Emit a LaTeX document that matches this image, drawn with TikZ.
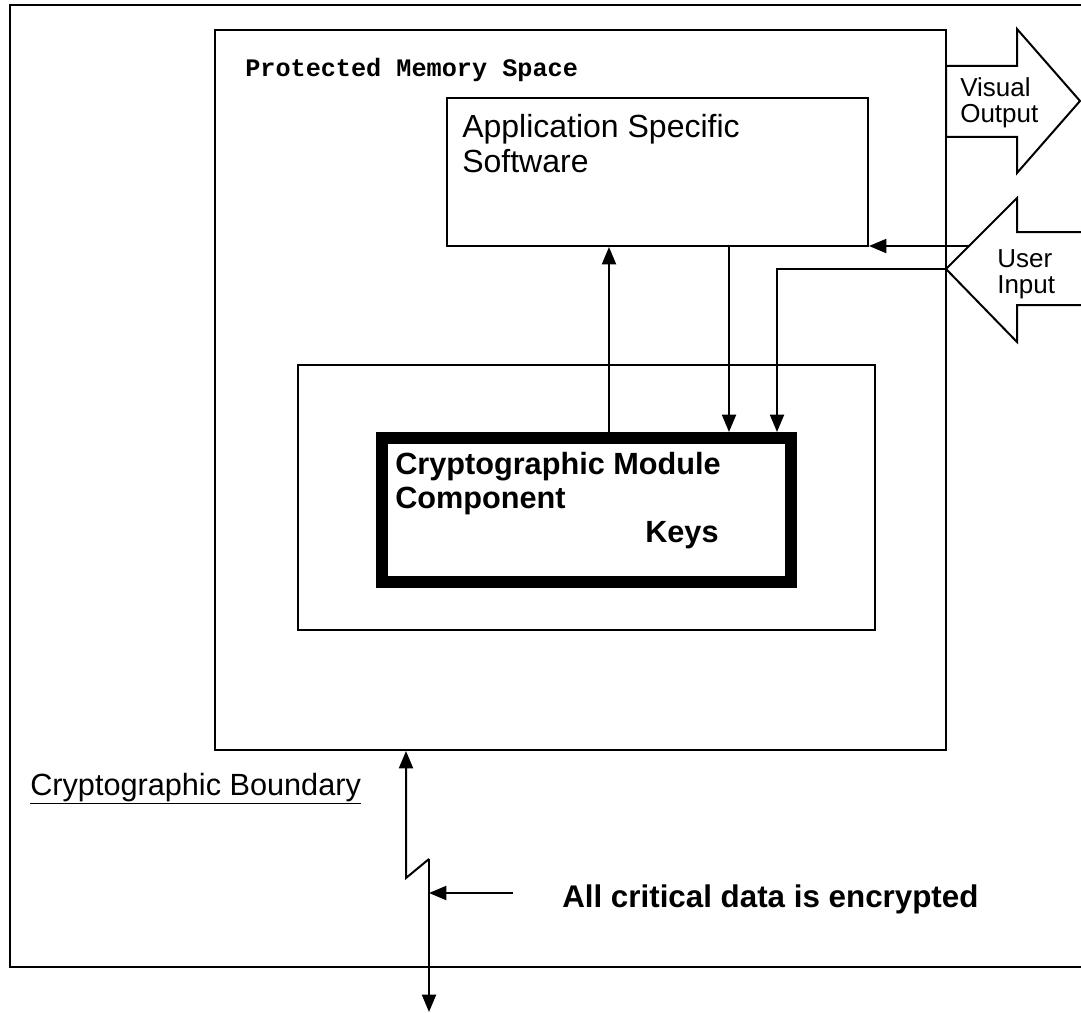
\documentclass[tikz,border=0pt]{standalone}
\usepackage{fontspec}
\setmainfont{Liberation Sans}
\newfontfamily\monofam{Liberation Mono}
\usetikzlibrary{arrows.meta,fit}
\begin{document}
\begin{tikzpicture}[x=0.75pt,y=-0.75pt,
  thinline/.style={line width=1.5pt},
  box/.style={draw, line width=1.5pt, inner sep=0pt},
  modbox/.style={draw, line width=9pt, inner sep=0pt, outer sep=4.5pt},
  arr/.style={line width=1.5pt,-{Triangle[length=13pt,width=10.5pt]}},
  lbl/.style={inner sep=0pt, anchor=base west, align=left}]
\useasboundingbox (0,0) rectangle (1081,1013);
% outer cryptographic boundary (cut off at the right)
\draw[thinline] (1081,5) -- (10,5) -- (10,967) -- (1081,967);
% boxes
\node[box, fit={(215,30) (946,750)}] (pms) {};
\node[box, fit={(447,98) (868,246)}] (app) {};
\node[box, fit={(298,365) (875,630)}] (mid) {};
\node[modbox, fit={(382,438) (791,582)}] (mod) {};
% block arrows
\draw[thinline, fill=white] (946,66) -- (1017,66) -- (1017,29) -- (1080,101) -- (1017,173) -- (1017,137) -- (946,137) -- cycle;
\draw[thinline] (1081,232) -- (1017,232) -- (1017,198) -- (946,269) -- (1017,342) -- (1017,305) -- (1081,305);
% helper coordinates
\coordinate (uitip) at (946,269);
\coordinate (uiedge) at (969,246);
\coordinate (xa) at (609,0);
\coordinate (xb) at (729,0);
\coordinate (xc) at (777,0);
\coordinate (z1) at (406,878);
\coordinate (z2) at (429,859);
\coordinate (zend) at (429,1012);
\coordinate (h0) at (513,893);
% connectors
\draw[arr] (mod.north -| xa) -- (app.south -| xa);
\draw[arr] (app.south -| xb) -- (mod.north -| xb);
\draw[arr] (uitip) -| (mod.north -| xc);
\draw[arr] (uiedge) -- (uiedge -| app.east);
\draw[arr] (z2) -- (z1) -- (pms.south -| z1);
\draw[arr] (z2) -- (zend);
\draw[arr] (h0) -- (h0 -| z2);
% labels (base anchor of a multi-line node = baseline of its last line)
\node[lbl, font=\monofam\bfseries\fontsize{18.9}{20}\selectfont] (pmsl) at (245,77) {Protected Memory Space};
\node[lbl, font=\fontsize{24}{25.5}\selectfont] (appl) at (462,172) {Application Specific\\Software};
\node[lbl, font=\bfseries\fontsize{23}{25.5}\selectfont] (modl) at (395,508) {Cryptographic Module\\Component};
\node[lbl, font=\bfseries\fontsize{23}{25}\selectfont] (keys) at (645,542) {Keys};
\node[lbl, font=\fontsize{19.5}{19.5}\selectfont] (vol) at (960,123) {Visual\\Output};
\node[lbl, font=\fontsize{19.5}{19.5}\selectfont] (uil) at (997,293) {User\\Input};
\node[lbl, font=\fontsize{23}{25}\selectfont] (cbl) at (30,795) {\underline{Cryptographic Boundary}};
\node[lbl, font=\bfseries\fontsize{23.5}{25}\selectfont] (enc) at (562,907) {All critical data is encrypted};
\end{tikzpicture}
\end{document}
